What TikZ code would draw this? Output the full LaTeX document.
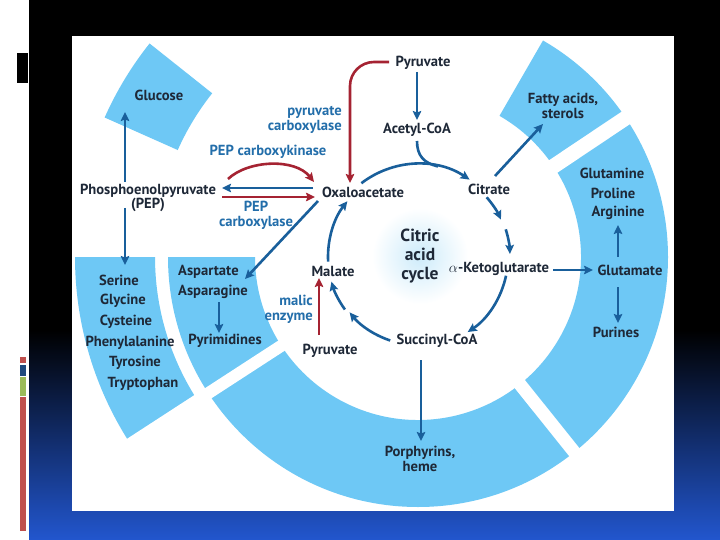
\documentclass[tikz,border=0pt]{standalone}
\usepackage{fontspec}
\setmainfont{PT Sans}
\usetikzlibrary{calc,arrows.meta}
\definecolor{txt}{RGB}{30,40,55}
\definecolor{lblue}{RGB}{35,110,170}
\definecolor{ablue}{RGB}{25,95,155}
\definecolor{ared}{RGB}{165,35,50}
\definecolor{ringc}{RGB}{110,200,245}
\definecolor{bgblue}{RGB}{34,86,206}
\definecolor{barred}{RGB}{192,80,77}
\definecolor{barblue}{RGB}{31,73,125}
\definecolor{bargreen}{RGB}{155,187,89}
\definecolor{glow}{RGB}{205,235,250}
\newcommand\ringseg[4]{%
  \fill[ringc] ($(C)+(-#1:#4)$) arc[start angle=-#1,end angle=-#2,radius=#4]
    -- ($(C)+(-#2:#3)$) arc[start angle=-#2,end angle=-#1,radius=#3] -- cycle;}
\newcommand\ringgap[4]{%
  \draw[white,line width=#2] ($(C)+(-#1:#3)$) -- ($(C)+(-#1:#4)$);}
\newcommand\cycarc[3]{%
  \draw[barr] ($(C)+(-#1:#3)$) arc[start angle=-#1,end angle=-#2,radius=#3];}
\begin{document}
\begin{tikzpicture}[x=1pt,y=-1pt,
  lab/.style={text=txt,inner sep=0pt,align=center,font=\bfseries\fontsize{14.6}{14.8}\selectfont},
  blab/.style={text=lblue,inner sep=0pt,font=\bfseries\fontsize{14.6}{15}\selectfont},
  biglab/.style={text=txt,inner sep=0pt,align=center,font=\bfseries\fontsize{17.5}{18.6}\selectfont},
  barr/.style={draw=ablue,line width=2.6pt,-{Stealth[length=9pt,width=8.5pt,inset=1.5pt]}},
  rarr/.style={draw=ared,line width=2.6pt,-{Stealth[length=9pt,width=8.5pt,inset=1.5pt]}},
  bline/.style={draw=ablue,line width=2.6pt}]
\useasboundingbox (0,0) rectangle (720,540);
% background
\fill[white] (0,0) rectangle (720,540);
\fill[black] (29,0) rectangle (720,330);
\shade[top color=black,bottom color=bgblue] (29,330) rectangle (720,540);
\fill[black] (17,53) rectangle (28,83);
\fill[barred] (20,357) rectangle (26,363);
\fill[barblue] (20,365) rectangle (26,376);
\fill[bargreen] (20,377) rectangle (26,396);
\fill[barred] (20,397) rectangle (26,531);
\fill[white] (72,36) rectangle (674,511);
% ring
\coordinate (C) at (418,257);
\ringseg{180}{420}{163}{250}
\ringseg{180}{212.5}{263}{343}
\ringseg{141.5}{156}{263}{343}
\ringgap{213}{12pt}{150}{352}
\ringgap{308.7}{13pt}{150}{262}
\ringgap{33.8}{15pt}{150}{262}
% glow
\shade[inner color=glow,outer color=white] (420,256) circle[radius=48];
% nodes
\node[lab] (pyrTop) at (423,63) {Pyruvate};
\node[lab] (acetyl) at (417,130) {Acetyl-CoA};
\node[lab] (oxalo) at (363,192) {Oxaloacetate};
\node[lab] (citrate) at (489,189) {Citrate};
\node[lab] (akg) at (499,269) {$\alpha$-Ketoglutarate};
\node[lab] (succ) at (437,341) {Succinyl-CoA};
\node[lab] (malate) at (333,271) {Malate};
\node[lab] (pyrBot) at (330,351) {Pyruvate};
\node[lab] (pep) at (148,198) {Phosphoenolpyruvate\\(PEP)};
\node[lab] (glucose) at (159,95) {Glucose};
\node[lab] (serine) at (119,280) {Serine};
\node[lab] (glycine) at (123,301) {Glycine};
\node[lab] (cysteine) at (126,322) {Cysteine};
\node[lab] (phe) at (130,343) {Phenylalanine};
\node[lab] (tyr) at (135,363) {Tyrosine};
\node[lab] (trp) at (143,384) {Tryptophan};
\node[lab,anchor=west] (asp) at (178,272) {Aspartate};
\node[lab,anchor=west] (asn) at (178,292) {Asparagine};
\node[lab] (pyrim) at (225,341) {Pyrimidines};
\node[lab] (gln) at (612,173) {Glutamine};
\node[lab] (pro) at (613,193) {Proline};
\node[lab] (arg) at (618,213) {Arginine};
\node[lab] (glu) at (630,270) {Glutamate};
\node[lab] (purines) at (616,332) {Purines};
\node[lab] (fatty) at (563,106) {Fatty acids,\\sterols};
\node[lab] (porph) at (420,459) {Porphyrins,\\heme};
\node[biglab] (cac) at (420,256) {Citric\\acid\\cycle};
\node[blab,align=right,anchor=east] (pc) at (342,120) {pyruvate\\carboxylase};
\node[blab] (pepck) at (268,152) {PEP carboxykinase};
\node[blab,align=center] (pepc) at (256,215) {PEP\\carboxylase};
\node[blab,align=right,anchor=east] (me) at (313,309) {malic\\enzyme};
% connector end points
\coordinate (pyrS) at (417,72);
\coordinate (acN) at (417,120);
\coordinate (acS) at (417,141);
\coordinate (merge) at (438,166.5);
\coordinate (pyrW) at (389,62);
\coordinate (oxN) at (350,183);
\coordinate (pckA) at (228,179);
\coordinate (pckB) at (314,182);
\coordinate (oxW1) at (313,188);
\coordinate (pepE1) at (222,188);
\coordinate (pepE2) at (222,197);
\coordinate (oxW2) at (315,197);
\coordinate (pepN) at (125,182);
\coordinate (gluS) at (125,112);
\coordinate (pepS) at (125,208);
\coordinate (serN) at (125,265);
\coordinate (oxSW) at (318,201);
\coordinate (aspNE) at (245,279);
\coordinate (asnS) at (219,302);
\coordinate (pyrimN) at (219,333);
\coordinate (pyrBN) at (319,335);
\coordinate (malS) at (319,278);
\coordinate (citNE) at (495,176);
\coordinate (fatS) at (543,124);
\coordinate (akgE) at (553,270);
\coordinate (gluW) at (593,270);
\coordinate (gluN) at (618,257);
\coordinate (argS) at (618,225);
\coordinate (gluS2) at (618,287);
\coordinate (purN) at (618,323);
\coordinate (succS) at (421,360);
\coordinate (porN) at (421,441);
% connectors
\draw[barr] (pyrS) -- (acN);
\draw[bline] (acS) .. controls (417,156) and (424,163) .. (merge);
\draw[rarr,rounded corners=24pt] (pyrW) -| (oxN);
\draw[rarr] (pckA) .. controls (248,160) and (295,158) .. (pckB);
\draw[barr] (oxW1) -- (pepE1);
\draw[rarr] (pepE2) -- (oxW2);
\draw[barr] (pepN) -- (gluS);
\draw[barr] (pepS) -- (serN);
\draw[barr] (oxSW) -- (aspNE);
\draw[barr] (asnS) -- (pyrimN);
\draw[rarr] (pyrBN) -- (malS);
\draw[barr] (citNE) -- (fatS);
\draw[barr] (akgE) -- (gluW);
\draw[barr] (gluN) -- (argS);
\draw[barr] (gluS2) -- (purN);
\draw[barr] (succS) -- (porN);
% cycle arcs
\cycarc{127.5}{56.3}{93}
\cycarc{41}{24.3}{91}
\cycarc{17.5}{1.9}{92}
\cycarc{348}{303.5}{90}
\cycarc{251.6}{219}{88}
\cycarc{215.7}{195.9}{90}
\cycarc{183}{141.7}{90}
\end{tikzpicture}
\end{document}
